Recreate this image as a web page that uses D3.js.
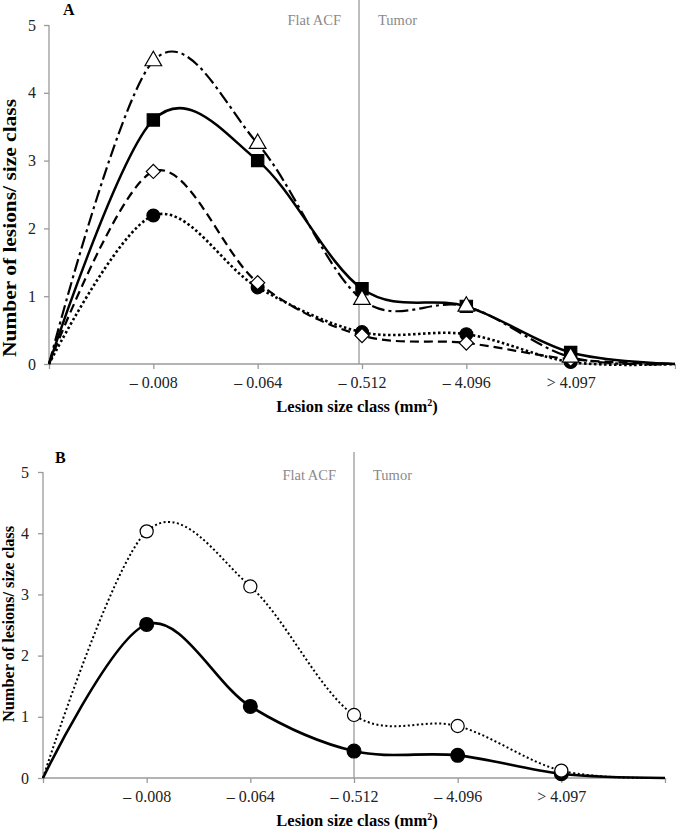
<!DOCTYPE html>
<html>
<head>
<meta charset="utf-8">
<script src="https://cdn.jsdelivr.net/npm/d3@7"></script>
<style>
  body { margin: 0; background: #fff; }
  svg { display: block; }
</style>
</head>
<body>
<div class="chart"></div>
<script>
const width = 676
const height = 831

// size classes on the x axis (positions 1..5, 0 and 6 are the curve ends)
const sizeClasses = ["– 0.008", "– 0.064", "– 0.512", "– 4.096", "> 4.097"]
const yTicks = [0, 1, 2, 3, 4, 5]

// panel A
const aTriangle = [4.47, 3.25, 0.95, 0.85, 0.10]
const aSquare   = [3.60, 3.00, 1.11, 0.85, 0.17]
const aDiamond  = [2.84, 1.20, 0.42, 0.31, 0.07]
const aCircle   = [2.19, 1.13, 0.47, 0.44, 0.03]

// panel B
const bOpen   = [4.03, 3.13, 1.03, 0.85, 0.12]
const bFilled = [2.51, 1.17, 0.44, 0.37, 0.07]

const font = "'Liberation Serif', 'Times New Roman', serif"
const grey = "#9a9a9a"

const svg = d3.select(".chart")
    .append("svg")
    .attr("width", width)
    .attr("height", height)

// the curve starts at 0 at the origin and ends at 0 past the last class
const withEnds = vals => [0, ...vals, 0].map((v, i) => ({i, v}))

function drawPanel(p) {
    const x = d3.scaleLinear().domain([0, 6]).range([p.left, p.right])
    const y = d3.scaleLinear().domain([0, 5]).range([p.bottom, p.top])

    const g = svg.append("g")

    // divider Flat ACF / Tumor
    g.append("line")
        .attr("x1", x(3) - p.divShift).attr("x2", x(3) - p.divShift)
        .attr("y1", p.divTop).attr("y2", p.bottom)
        .attr("stroke", grey).attr("stroke-width", 1.3)

    g.append("text")
        .attr("x", x(3) - p.divShift - 18).attr("y", p.zoneY)
        .attr("text-anchor", "end")
        .attr("fill", "#8a8a8a")
        .style("font-family", font).style("font-size", "14.5px")
        .text("Flat ACF")
    g.append("text")
        .attr("x", x(3) - p.divShift + 19).attr("y", p.zoneY)
        .attr("fill", "#8a8a8a")
        .style("font-family", font).style("font-size", "14.5px")
        .text("Tumor")

    // axes
    const yAxis = g.append("g")
        .attr("transform", `translate(${p.left},0)`)
        .call(d3.axisLeft(y).tickValues(yTicks).tickSize(5).tickPadding(p.yPad)
            .tickFormat(d3.format("d")))
    const xAxis = g.append("g")
        .attr("transform", `translate(0,${p.bottom})`)
        .call(d3.axisBottom(x).tickValues(d3.range(0, 7)).tickSize(5).tickPadding(8)
            .tickFormat(d => sizeClasses[d - 1] || ""))

    g.selectAll(".domain, .tick line")
        .attr("stroke", grey).attr("stroke-width", 1.3)
    g.selectAll(".tick text")
        .attr("fill", "#222")
        .style("font-family", font).style("font-size", "16px")
    yAxis.select(".domain").attr("d", `M-0,${p.top}V${p.bottom}`)
    xAxis.select(".domain").attr("d", `M${p.left},0H${p.right}`)

    // titles
    g.append("text")
        .attr("x", (p.left + p.right) / 2 + p.xTitleShift).attr("y", p.bottom + 48)
        .attr("text-anchor", "middle")
        .style("font-family", font).style("font-size", "16.5px").style("font-weight", "bold")
        .html("Lesion size class (mm<tspan dy='-6' font-size='10px'>2</tspan><tspan dy='6'>)</tspan>")

    g.append("text")
        .attr("transform", `translate(${p.yTitleX},${p.yTitleY}) rotate(-90)`)
        .attr("text-anchor", "middle")
        .attr("textLength", p.yTitleLen).attr("lengthAdjust", "spacingAndGlyphs")
        .style("font-family", font).style("font-size", p.yTitleSize + "px").style("font-weight", "bold")
        .text("Number of lesions/ size class")

    g.append("text")
        .attr("x", p.letterX).attr("y", p.letterY)
        .style("font-family", font).style("font-size", "16px").style("font-weight", "bold")
        .text(p.letter)

    const line = d3.line()
        .x(d => x(d.i))
        .y(d => y(d.v))
        .curve(d3.curveCardinal.tension(0))

    p.series.forEach(s => {
        g.append("path")
            .datum(withEnds(s.values))
            .attr("d", line)
            .attr("fill", "none")
            .attr("stroke", "#000")
            .attr("stroke-width", s.width)
            .attr("stroke-dasharray", s.dash)
    })

    p.series.slice().reverse().forEach(s => {
        g.selectAll(null)
            .data(s.values.map((v, k) => ({i: k + 1, v})))
            .enter().append("path")
            .attr("transform", d => `translate(${x(d.i)},${y(d.v)}) rotate(${s.rot || 0})`)
            .attr("d", d3.symbol().type(s.symbol).size(s.size))
            .attr("fill", s.fill)
            .attr("stroke", "#000")
            .attr("stroke-width", 1.2)
    })
}

drawPanel({
    letter: "A", letterX: 63, letterY: 15,
    left: 49, right: 675, top: 25, bottom: 364,
    divShift: 3, divTop: 0, zoneY: 25, yPad: 8, xTitleShift: -5,
    yTitleX: 16, yTitleY: 228, yTitleSize: 18, yTitleLen: 258,
    series: [
        {values: aTriangle, dash: "13,4,3,4", width: 2.2, symbol: d3.symbolTriangle, size: 120, fill: "#fff"},
        {values: aSquare, dash: null, width: 2.5, symbol: d3.symbolSquare, size: 150, fill: "#000"},
        {values: aDiamond, dash: "9,5", width: 2.2, symbol: d3.symbolSquare, size: 100, fill: "#fff", rot: 45},
        {values: aCircle, dash: "2.5,2.5", width: 2.6, symbol: d3.symbolCircle, size: 130, fill: "#000"}
    ]
})

drawPanel({
    letter: "B", letterX: 55, letterY: 463,
    left: 43, right: 665, top: 472, bottom: 778,
    divShift: 0, divTop: 452, zoneY: 480, yPad: 9, xTitleShift: 3,
    yTitleX: 14, yTitleY: 624, yTitleSize: 16, yTitleLen: 196,
    series: [
        {values: bOpen, dash: "2,2.5", width: 2, symbol: d3.symbolCircle, size: 135, fill: "#fff"},
        {values: bFilled, dash: null, width: 2.6, symbol: d3.symbolCircle, size: 150, fill: "#000"}
    ]
})
</script>
</body>
</html>
